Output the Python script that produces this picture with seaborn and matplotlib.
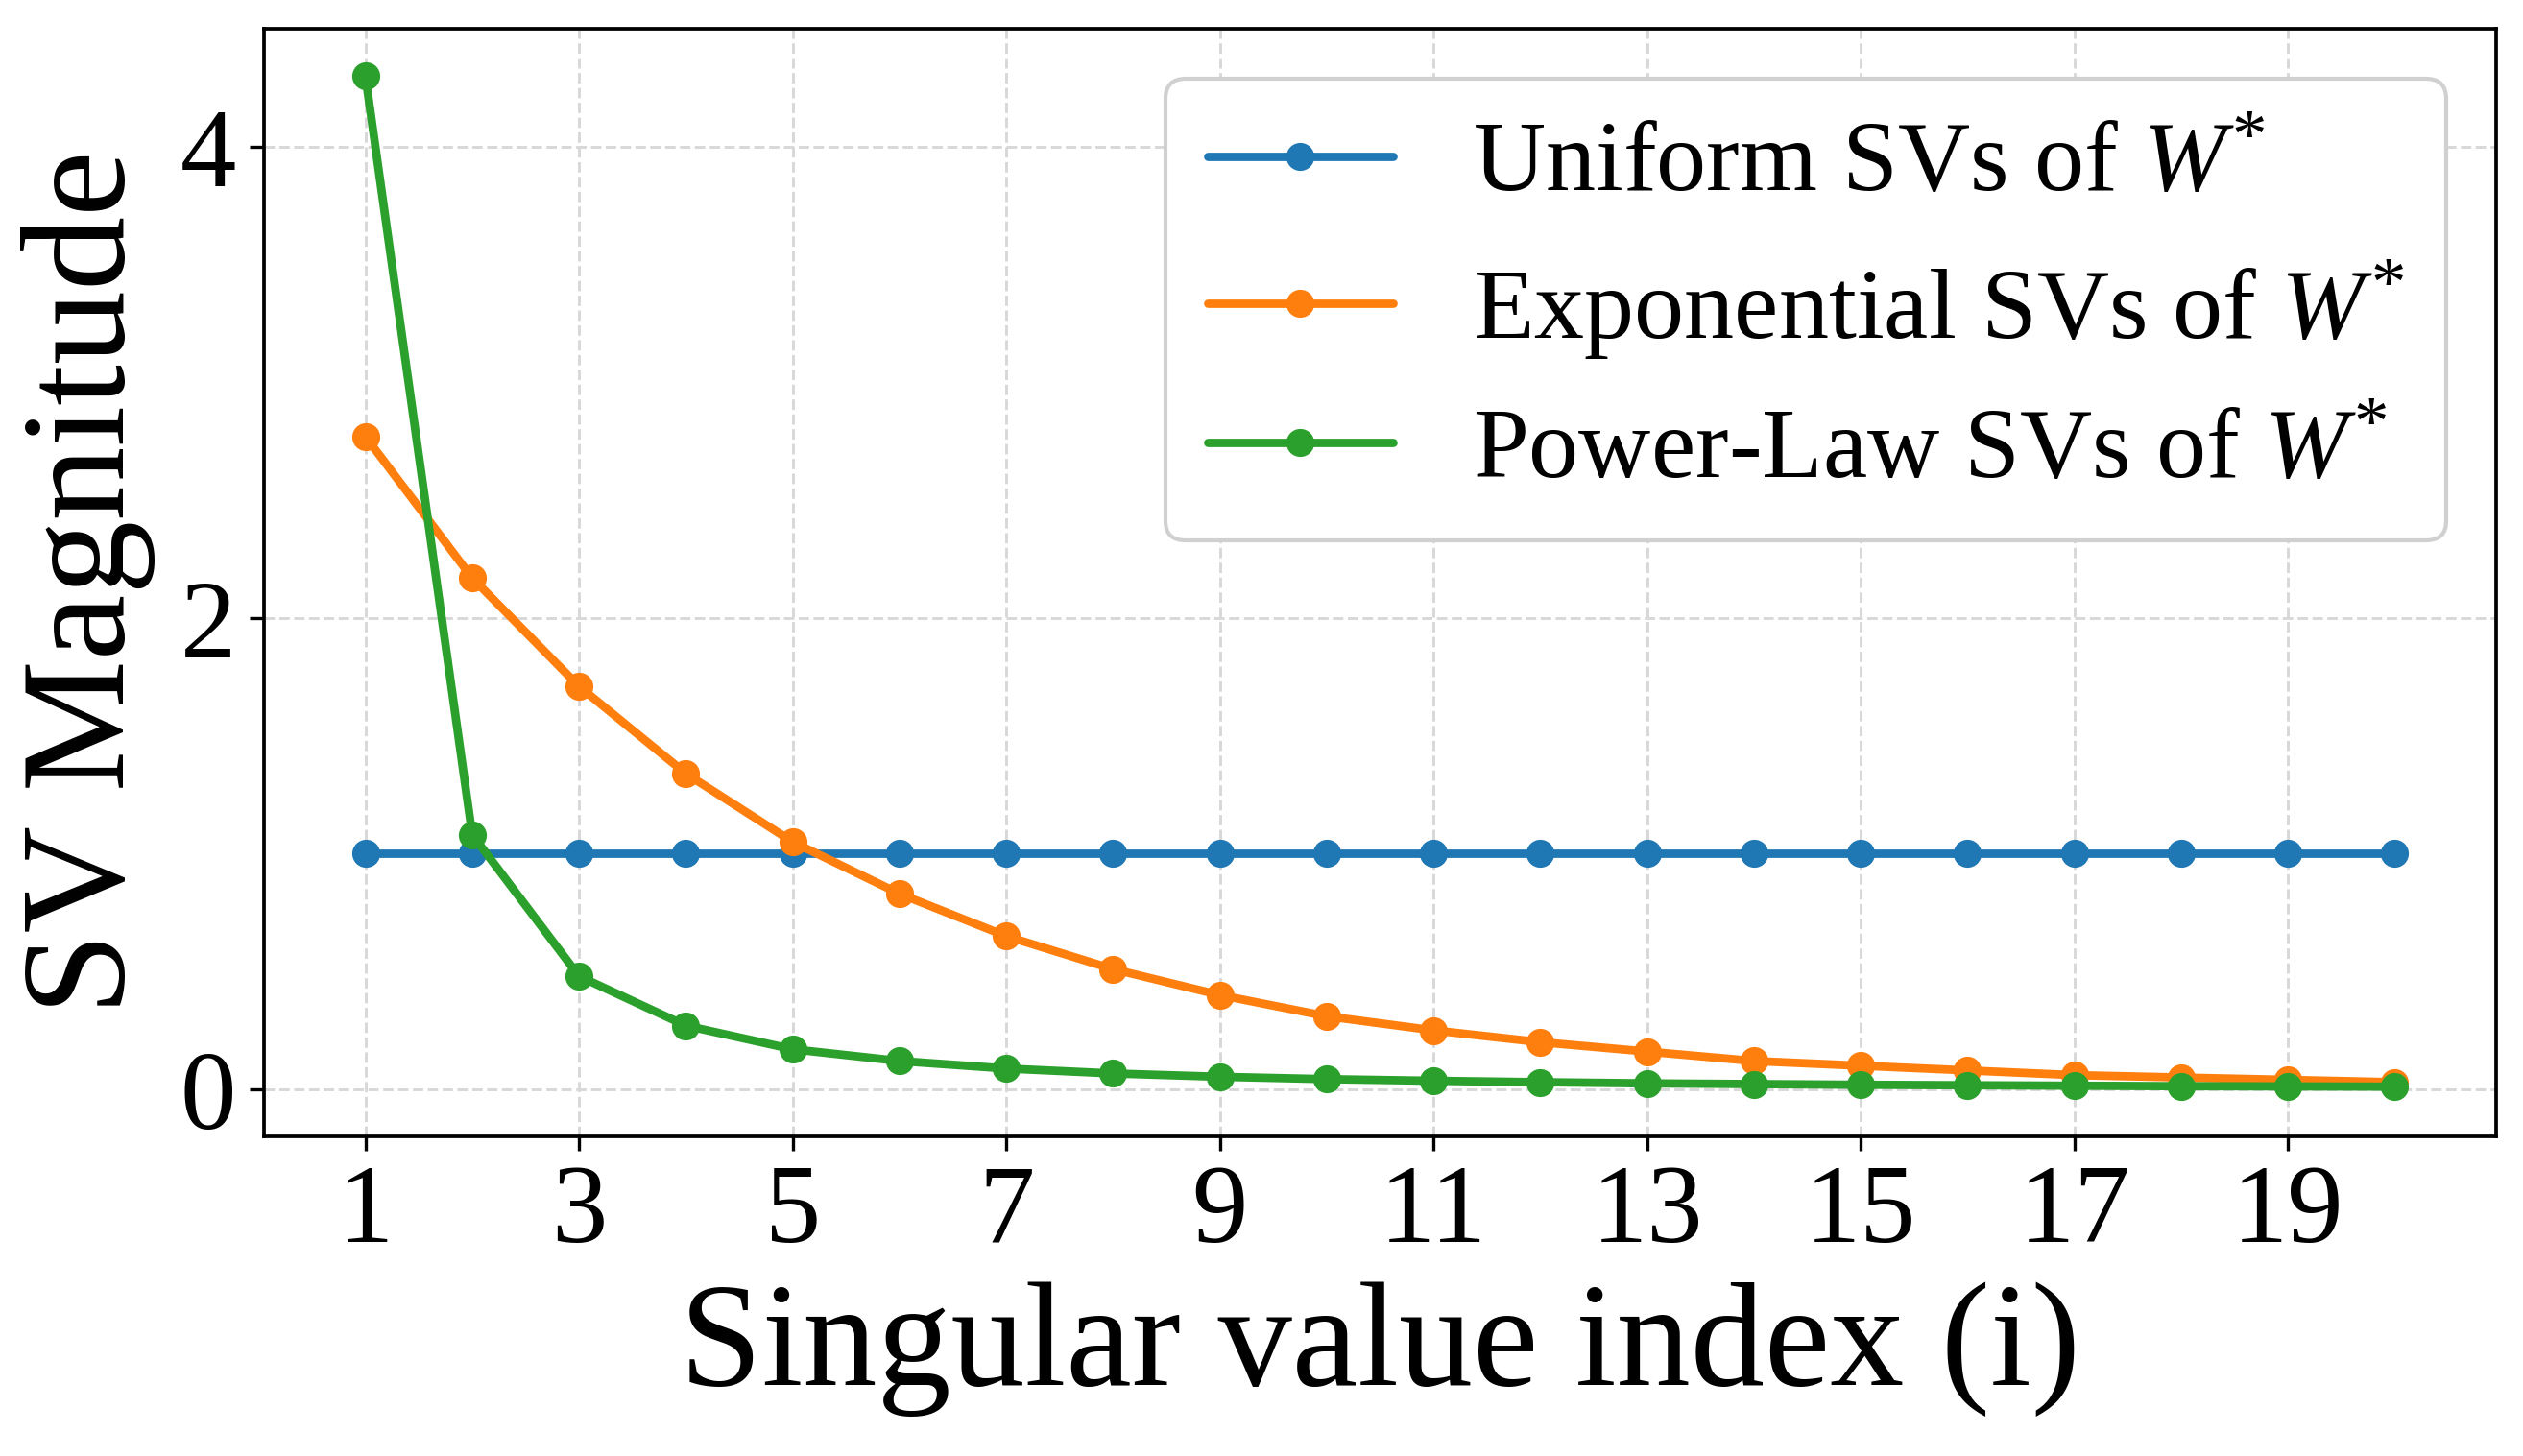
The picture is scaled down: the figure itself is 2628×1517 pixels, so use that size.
import pandas as pd
import matplotlib.pyplot as plt
import seaborn as sns

index = list(range(1, 21))
uniform = [1.0] * 20
exponential = [2.77, 2.17, 1.71, 1.34, 1.05, 0.83, 0.65, 0.51, 0.40, 0.31,
               0.25, 0.20, 0.16, 0.12, 0.10, 0.08, 0.06, 0.05, 0.04, 0.03]
power_law = [4.30, 1.08, 0.48, 0.27, 0.17, 0.12, 0.088, 0.067, 0.053, 0.043,
             0.036, 0.030, 0.025, 0.022, 0.019, 0.017, 0.015, 0.013, 0.012, 0.011]
labels = [r"Uniform SVs of $W^{*}$", r"Exponential SVs of $W^{*}$", r"Power-Law SVs of $W^{*}$"]

df = pd.concat([
    pd.DataFrame({"i": index, "sv": uniform, "kind": labels[0]}),
    pd.DataFrame({"i": index, "sv": exponential, "kind": labels[1]}),
    pd.DataFrame({"i": index, "sv": power_law, "kind": labels[2]}),
])

sns.set_style("ticks")
plt.rcParams['font.family'] = ['Liberation Serif', 'DejaVu Serif']
plt.rcParams['mathtext.fontset'] = 'custom'
plt.rcParams['mathtext.rm'] = 'Liberation Serif'
plt.rcParams['mathtext.it'] = 'Liberation Serif:italic'
plt.rcParams['text.color'] = 'black'
plt.rcParams['axes.labelcolor'] = 'black'
plt.rcParams['xtick.color'] = 'black'
plt.rcParams['ytick.color'] = 'black'
plt.rcParams['axes.edgecolor'] = 'black'

fig, ax = plt.subplots(figsize=(8.763, 5.057), dpi=300)
sns.lineplot(data=df, x="i", y="sv", hue="kind", marker="o", markersize=7,
             markeredgewidth=0, linewidth=2.1, palette="tab10", ax=ax)

ax.set_xticks(range(1, 21, 2))
ax.set_yticks([0, 2, 4])
ax.set_ylim(-0.2, 4.5)
ax.grid(True, linestyle='--', color='#d8d8d8', linewidth=0.7)
ax.tick_params(labelsize=28)
ax.set_xlabel("Singular value index (i)", fontsize=37, labelpad=4)
ax.set_ylabel("SV Magnitude", fontsize=37, labelpad=6)
ax.legend(title=None, fontsize=25, loc='upper right', framealpha=1,
          edgecolor='#d0d0d0', fancybox=True, handlelength=1.85,
          handletextpad=0.8, labelspacing=0.45, borderpad=0.42)
for s in ax.spines.values():
    s.set_linewidth(0.9)

fig.subplots_adjust(left=0.1046, right=0.989, top=0.980, bottom=0.2195)
plt.savefig("out.png")
